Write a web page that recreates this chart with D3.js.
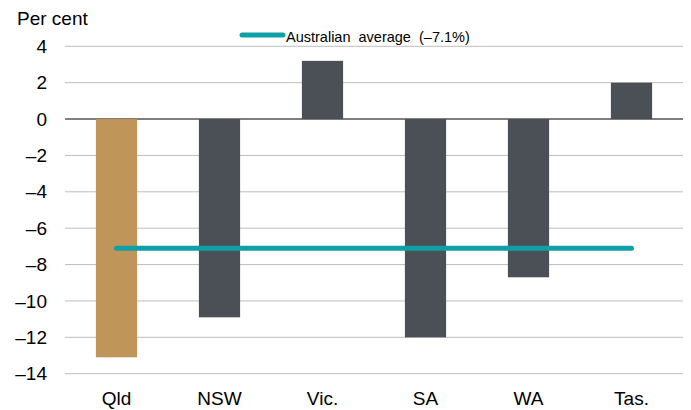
<!DOCTYPE html>
<html><head><meta charset="utf-8">
<script src="https://cdn.jsdelivr.net/npm/d3@7"></script>
<style>body{margin:0;background:#fff;} text{font-family:"Liberation Sans",Arial,sans-serif;fill:#000;}</style>
</head><body><svg id="c" width="691" height="410"></svg>
<script>
const categories = ["Qld","NSW","Vic.","SA","WA","Tas."];
const values = [-13.1,-10.9,3.2,-12.0,-8.7,2.0];
const average = -7.1;
const yTicks = [4,2,0,-2,-4,-6,-8,-10,-12,-14];
const legendLabel = "Australian\u00a0\u00a0average\u00a0\u00a0(\u20137.1%)";

const svg = d3.select("#c");
const x = d3.scaleBand().domain(categories).range([65,683]).paddingInner(0.6).paddingOuter(0.3);
const y = d3.scaleLinear().domain([-14,4]).range([373.7,46.3]);

// gridlines
svg.append("g").selectAll("line").data(yTicks).join("line")
  .attr("x1",65).attr("x2",683)
  .attr("y1",d=>y(d)).attr("y2",d=>y(d))
  .attr("stroke",d=>d===0?"#555":"#bdbdbd").attr("stroke-width",d=>d===0?1.5:1);

// y labels
const fmt = d => d<0 ? "\u2013"+Math.abs(d) : String(d);
svg.append("g").selectAll("text").data(yTicks).join("text")
  .attr("x",47).attr("y",d=>y(d)).attr("dy","0.35em")
  .attr("text-anchor","end").attr("font-size",19).text(fmt);

svg.append("text").attr("x",17).attr("y",24.5).attr("font-size",19).text("Per cent");

// bars
svg.append("g").selectAll("rect").data(categories).join("rect")
  .attr("x",d=>x(d)).attr("width",x.bandwidth())
  .attr("y",(d,i)=>y(Math.max(0,values[i])))
  .attr("height",(d,i)=>Math.abs(y(values[i])-y(0)))
  .attr("fill",(d,i)=>i===0?"#bf9559":"#4b4f56");

// average line
svg.append("line")
  .attr("x1",x(categories[0])+x.bandwidth()/2)
  .attr("x2",x(categories[categories.length-1])+x.bandwidth()/2)
  .attr("y1",y(average)).attr("y2",y(average))
  .attr("stroke","#0f9fa6").attr("stroke-width",5).attr("stroke-linecap","round");

// legend
svg.append("line").attr("x1",242).attr("x2",283).attr("y1",35).attr("y2",35)
  .attr("stroke","#0f9fa6").attr("stroke-width",5).attr("stroke-linecap","round");
svg.append("text").attr("x",286).attr("y",41.5).attr("font-size",14.5).text(legendLabel);

// x labels
svg.append("g").selectAll("text").data(categories).join("text")
  .attr("x",d=>x(d)+x.bandwidth()/2).attr("y",405)
  .attr("text-anchor","middle").attr("font-size",19).text(d=>d);
</script></body></html>
